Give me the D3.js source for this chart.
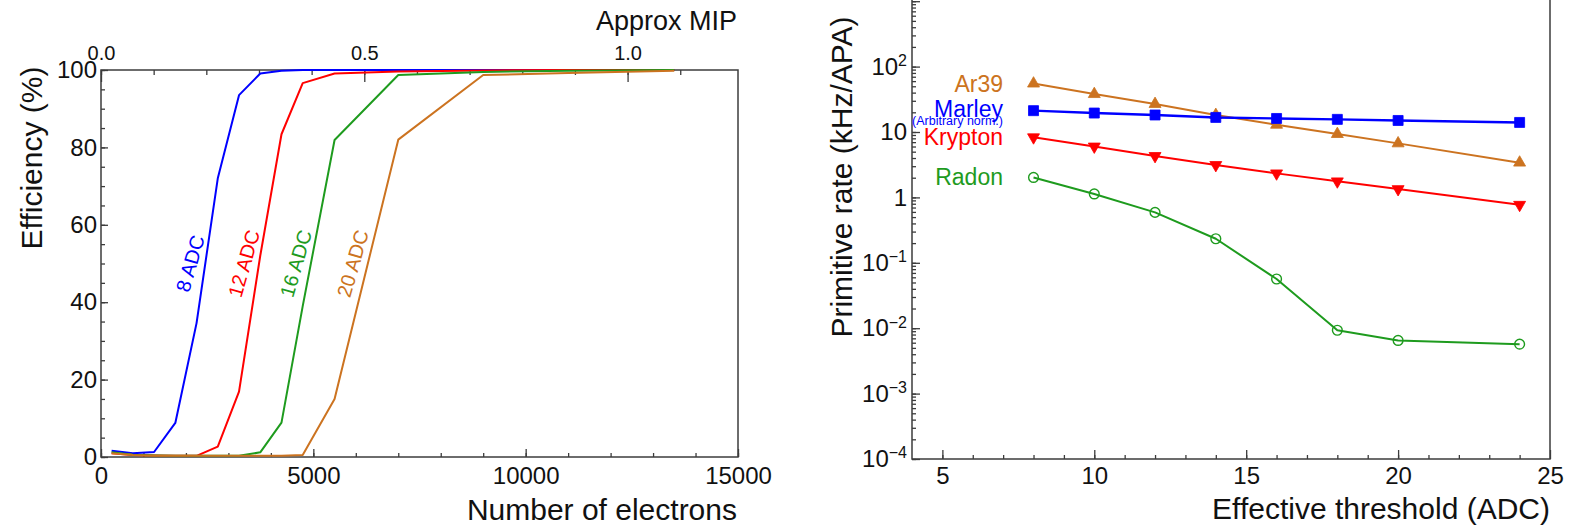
<!DOCTYPE html>
<html>
<head>
<meta charset="utf-8">
<title>Trigger primitive efficiency and rates</title>
<style>
body { margin: 0; background: #fff; }
svg { display: block; font-family: "Liberation Sans", Arial, Helvetica, sans-serif; }
.frame { fill: none; stroke: #3c3c3c; stroke-width: 1.5px; }
.axis path { display: none; }
.axis line { stroke: #3c3c3c; stroke-width: 1.3px; }
.axis text { fill: #111; font-size: 24px; font-family: "Liberation Sans", Arial, sans-serif; }
.curve { fill: none; stroke-width: 2px; stroke-linejoin: round; }
.title { fill: #111; font-size: 30px; }
</style>
</head>
<body>
<script src="https://cdn.jsdelivr.net/npm/d3@7"></script>
<script>

// ---- left panel data: hit efficiency vs number of electrons
var electrons = [250, 750, 1250, 1750, 2250, 2750, 3250, 3750, 4250, 4750, 5500, 7000, 9000, 11000, 13500];
var eff8  = [1.6, 1.0, 1.3, 8.8, 34.6, 72, 93.5, 99.1, 99.8, 100, 100, 100, 100, 100, 100];
var eff12 = [1.0, 0.5, 0.4, 0.3, 0.3, 2.7, 16.9, 52, 83.4, 96.6, 99.1, 99.6, 99.9, 100, 100];
var eff16 = [1.2, 0.6, 0.4, 0.3, 0.3, 0.3, 0.3, 1.2, 8.9, 39, 81.9, 98.7, 99.5, 99.8, 100];
var eff20 = [1.0, 0.5, 0.3, 0.3, 0.3, 0.3, 0.3, 0.3, 0.3, 0.5, 15, 82, 98.7, 99.2, 99.8];
var thresholdLabels = ["8 ADC", "12 ADC", "16 ADC", "20 ADC"];
var electronsPerMip = 12400;

// ---- right panel data: primitive rate vs effective threshold
var threshold = [8, 10, 12, 14, 16, 18, 20, 24];
var ar39    = [55, 38, 26.8, 18.2, 12.9, 9.3, 6.7, 3.4];
var marley  = [21.2, 19.5, 18.2, 16.7, 16.1, 15.6, 15.0, 14.0];
var krypton = [8.3, 6.0, 4.3, 3.13, 2.33, 1.76, 1.34, 0.77];
var radon   = [2.02, 1.13, 0.59, 0.233, 0.0565, 0.0093, 0.0065, 0.0057];
var sourceNames = ["Ar39", "Marley", "Krypton", "Radon"];

var blue = "#0000ff", red = "#ff0000", green = "#1e9b1e", orange = "#cc7320";
var none = function() { return ""; };

var svg = d3.select("body").append("svg")
    .attr("width", 1574)
    .attr("height", 526);

// =================== left panel ===================
var xE = d3.scaleLinear().domain([0, 15000]).range([101, 738]);
var yE = d3.scaleLinear().domain([0, 100]).range([457, 70]);
var xMip = d3.scaleLinear().domain([0, 15000 / electronsPerMip]).range([101, 738]);

var left = svg.append("g");

// bottom axis
left.append("g").attr("class", "axis").attr("transform", "translate(0,457)")
    .call(d3.axisBottom(xE).tickValues(d3.range(0, 15001, 1000)).tickSize(-4).tickFormat(none));
left.append("g").attr("class", "axis").attr("transform", "translate(0,457)")
    .call(d3.axisBottom(xE).tickValues([0, 5000, 10000, 15000]).tickSize(-8).tickPadding(10)
        .tickFormat(d3.format("d")));

// left axis
left.append("g").attr("class", "axis").attr("transform", "translate(101,0)")
    .call(d3.axisLeft(yE).tickValues(d3.range(0, 101, 5)).tickSize(-4).tickFormat(none));
left.append("g").attr("class", "axis").attr("transform", "translate(101,0)")
    .call(d3.axisLeft(yE).tickValues(d3.range(0, 101, 20)).tickSize(-7).tickPadding(4));

// top axis (approx MIP)
left.append("g").attr("class", "axis").attr("transform", "translate(0,70)")
    .call(d3.axisTop(xMip).tickValues(d3.range(0, 12).map(function(i) { return i / 10; }))
        .tickSize(-5).tickFormat(none));
var topAx = left.append("g").attr("class", "axis").attr("transform", "translate(0,70)")
    .call(d3.axisTop(xMip).tickValues([0, 0.5, 1.0]).tickSize(-12).tickPadding(10)
        .tickFormat(d3.format(".1f")));
topAx.selectAll("text").style("font-size", "20px");

left.append("rect").attr("class", "frame")
    .attr("x", 101).attr("y", 70).attr("width", 738 - 101).attr("height", 457 - 70);

var effLine = d3.line()
    .x(function(d, i) { return xE(electrons[i]); })
    .y(function(d) { return yE(d); });

var effSeries = [eff8, eff12, eff16, eff20];
var effColors = [blue, red, green, orange];

effSeries.forEach(function(s, k) {
    left.append("path").attr("class", "curve")
        .attr("d", effLine(s))
        .attr("stroke", effColors[k]);

    // label sits just left of where the curve crosses 50 %
    var j = s.findIndex(function(v) { return v >= 50; });
    var e50 = electrons[j - 1] + (50 - s[j - 1]) / (s[j] - s[j - 1]) * (electrons[j] - electrons[j - 1]);
    left.append("text")
        .attr("transform", "translate(" + (xE(e50) - 15) + "," + yE(50) + ") rotate(-74)")
        .attr("text-anchor", "middle")
        .attr("dy", "0.35em")
        .style("font-size", "20px")
        .attr("fill", effColors[k])
        .text(thresholdLabels[k]);
});

left.append("text").attr("class", "title")
    .attr("transform", "translate(42,158) rotate(-90)")
    .attr("text-anchor", "middle")
    .text("Efficiency (%)");

left.append("text").attr("class", "title")
    .attr("x", 737).attr("y", 520)
    .attr("text-anchor", "end")
    .text("Number of electrons");

left.append("text").attr("class", "title")
    .attr("x", 737).attr("y", 30)
    .attr("text-anchor", "end")
    .style("font-size", "27px")
    .text("Approx MIP");

// =================== right panel ===================
var xT = d3.scaleLinear().domain([4, 25]).range([912, 1550]);
var yR = d3.scaleLog().domain([1e-4, 1e4]).range([459, 459 - 8 * 65.4]);

var right = svg.append("g");

right.append("g").attr("class", "axis").attr("transform", "translate(0,459)")
    .call(d3.axisBottom(xT).tickValues(d3.range(5, 25)).tickSize(-4).tickFormat(none));
right.append("g").attr("class", "axis").attr("transform", "translate(0,459)")
    .call(d3.axisBottom(xT).tickValues([5, 10, 15, 20, 25]).tickSize(-9).tickPadding(8)
        .tickFormat(d3.format("d")));

right.append("g").attr("class", "axis").attr("transform", "translate(912,0)")
    .call(d3.axisLeft(yR).tickValues(yR.ticks()).tickSize(-4).tickFormat(none));

var decades = [1e-4, 1e-3, 1e-2, 1e-1, 1, 10, 100, 1000];
var yAx = right.append("g").attr("class", "axis").attr("transform", "translate(912,0)")
    .call(d3.axisLeft(yR).tickValues(decades).tickSize(-8).tickPadding(5).tickFormat(none));

yAx.selectAll("text").each(function(d) {
    var e = Math.round(Math.log10(d));
    var t = d3.select(this);
    if (e > 2) return;
    if (e === 0) { t.text("1"); return; }
    if (e === 1) { t.text("10"); return; }
    t.append("tspan").text("10");
    t.append("tspan").attr("dy", "-0.55em").style("font-size", "16px")
        .text(e < 0 ? "\u2212" + (-e) : String(e));
});

right.append("path").attr("class", "frame")
    .attr("d", "M912,-10V459H1550V-10");

var rateLine = d3.line()
    .x(function(d, i) { return xT(threshold[i]); })
    .y(function(d) { return yR(d); });

var rateSeries = [ar39, marley, krypton, radon];
var rateColors = [orange, blue, red, green];
var markers = [
    d3.symbol().type(d3.symbolTriangle).size(62),
    d3.symbol().type(d3.symbolSquare).size(100),
    d3.symbol().type(d3.symbolTriangle).size(62),
    d3.symbol().type(d3.symbolCircle).size(75)
];
var rotations = [0, 0, 180, 0];

rateSeries.forEach(function(s, k) {
    right.append("path").attr("class", "curve")
        .attr("d", rateLine(s))
        .attr("stroke", rateColors[k])
        .style("stroke-width", k === 1 ? "2.4px" : "2px");

    right.selectAll(null).data(s).enter().append("path")
        .attr("transform", function(d, i) {
            return "translate(" + xT(threshold[i]) + "," + yR(d) + ") rotate(" + rotations[k] + ")";
        })
        .attr("d", markers[k])
        .attr("fill", k === 3 ? "none" : rateColors[k])
        .attr("stroke", rateColors[k])
        .attr("stroke-width", k === 3 ? 1.4 : 0.8);
});

// series names, placed left of each curve's first point
var nameShift = [8, 6, 8, 8];
sourceNames.forEach(function(n, k) {
    right.append("text")
        .attr("x", 1003)
        .attr("y", yR(rateSeries[k][0]) + nameShift[k])
        .attr("text-anchor", "end")
        .style("font-size", "23px")
        .attr("fill", rateColors[k])
        .text(n);
});
right.append("text")
    .attr("x", 1003)
    .attr("y", yR(marley[0]) + 14)
    .attr("text-anchor", "end")
    .style("font-size", "12.5px")
    .attr("fill", blue)
    .text("(Arbitrary norm.)");

right.append("text").attr("class", "title")
    .attr("transform", "translate(852,177) rotate(-90)")
    .attr("text-anchor", "middle")
    .text("Primitive rate (kHz/APA)");

right.append("text").attr("class", "title")
    .attr("x", 1550).attr("y", 519)
    .attr("text-anchor", "end")
    .text("Effective threshold (ADC)");

</script>
</body>
</html>
